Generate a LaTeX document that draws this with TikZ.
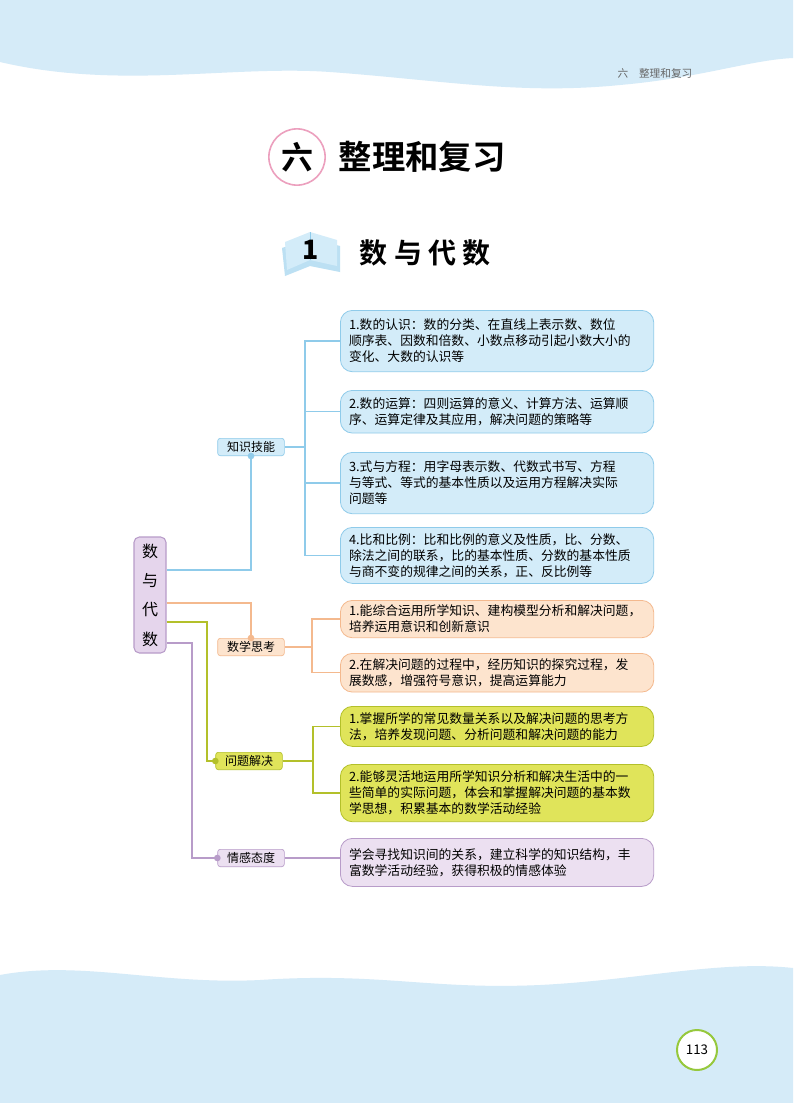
\documentclass[tikz,border=0pt]{standalone}
\usepackage{fontspec}
\setmainfont{Noto Sans CJK SC}
\newfontfamily\cjk{Noto Sans CJK SC}
\newfontfamily\cjkb{Noto Sans CJK SC Bold}
\usetikzlibrary{calc}
\definecolor{wave}{HTML}{D5EBF8}
\definecolor{bfill}{HTML}{D3ECF9}\definecolor{bline}{HTML}{8FCBEA}
\definecolor{ofill}{HTML}{FDE4CE}\definecolor{oline}{HTML}{F4B98E}
\definecolor{gfill}{HTML}{E0E45A}\definecolor{gline}{HTML}{B3C02A}
\definecolor{pfill}{HTML}{ECE0F1}\definecolor{pline}{HTML}{B89CC9}
\tikzset{
 box/.style={rounded corners=9pt,draw=#1line,fill=#1fill,line width=0.6pt,anchor=north west,minimum width=235pt,text width=222pt,align=left,font=\cjk\fontsize{9.6}{12}\selectfont,inner sep=0pt},
 cat/.style={rounded corners=2pt,draw=#1line,fill=#1fill,line width=0.5pt,minimum width=50pt,minimum height=13pt,inner sep=1pt,font=\cjk\fontsize{9}{10}\selectfont},
 con/.style={line width=0.9pt,draw=#1line},
 dot/.style={circle,fill=#1line,inner sep=0pt,minimum size=5pt}
}
\begin{document}
\begin{tikzpicture}[x=0.75pt,y=-0.75pt]
\useasboundingbox (0,0) rectangle (793,1103);
\fill[white] (0,0) rectangle (793,1103);
% waves
\fill[wave] (0,0) -- (0,62) .. controls (120,90) and (230,65) .. (330,72) .. controls (440,80) and (520,95) .. (620,85) .. controls (700,78) and (750,60) .. (793,58) -- (793,0) -- cycle;
\fill[wave] (0,1103) -- (0,975) .. controls (80,960) and (160,985) .. (260,980) .. controls (380,972) and (430,990) .. (540,985) .. controls (640,980) and (720,960) .. (793,968) -- (793,1103) -- cycle;
\node[font=\cjk\fontsize{8}{9}\selectfont,text=black!60] (hdr) at (655,73) {六\quad 整理和复习};
% page number
\node[circle,draw={rgb,255:red,150;green,200;blue,60},line width=1.5pt,fill=white,minimum size=30pt,font=\cjk\fontsize{10}{10}\selectfont] (pg) at (697,1050) {113};
% title
\node[circle,draw={rgb,255:red,236;green,160;blue,190},line width=1.2pt,minimum size=40pt,font=\cjkb\fontsize{24}{24}\selectfont] (six) at (297,157) {六};
\node[anchor=west,font=\cjkb\fontsize{25}{25}\selectfont] (title) at (334,157) {整理和复习};
% book icon
\fill[bline!60] (282,248) -- (310,238) -- (340,246) -- (340,272) -- (310,266) -- (285,276) -- cycle;
\fill[bfill] (285,242) -- (310,232) -- (337,240) -- (337,266) -- (310,260) -- (287,270) -- cycle;
\draw[bline,line width=0.6pt] (310,232) -- (310,260);
\node[font=\bfseries\itshape\fontsize{20}{20}\selectfont] (one) at (311,250) {1};
\node[anchor=west,font=\cjkb\fontsize{21}{21}\selectfont] (sub) at (355,253) {数\ 与\ 代\ 数};
% root
\node[rounded corners=4pt,draw=pline,fill={rgb,255:red,229;green,213;blue,236},line width=0.8pt,minimum width=24pt,minimum height=87pt,align=center,font=\cjk\fontsize{12}{22}\selectfont] (root) at (150,595) {数\\与\\代\\数};
% categories
\node[cat=b] (k) at (251,447) {知识技能};
\node[cat=o] (m) at (251,647) {数学思考};
\node[cat=g] (w) at (249,761) {问题解决};
\node[cat=p] (q) at (251,858) {情感态度};
% boxes
\node[box=b,minimum height=46pt] (b1) at (340,310) {1.数的认识：数的分类、在直线上表示数、数位\\顺序表、因数和倍数、小数点移动引起小数大小的\\变化、大数的认识等};
\node[box=b,minimum height=32pt] (b2) at (340,390) {2.数的运算：四则运算的意义、计算方法、运算顺\\序、运算定律及其应用，解决问题的策略等};
\node[box=b,minimum height=46pt] (b3) at (340,452) {3.式与方程：用字母表示数、代数式书写、方程\\与等式、等式的基本性质以及运用方程解决实际\\问题等};
\node[box=b,minimum height=42pt] (b4) at (340,527) {4.比和比例：比和比例的意义及性质，比、分数、\\除法之间的联系，比的基本性质、分数的基本性质\\与商不变的规律之间的关系，正、反比例等};
\node[box=o,minimum height=28pt] (o1) at (340,600) {1.能综合运用所学知识、建构模型分析和解决问题，\\培养运用意识和创新意识};
\node[box=o,minimum height=29pt] (o2) at (340,653) {2.在解决问题的过程中，经历知识的探究过程，发\\展数感，增强符号意识，提高运算能力};
\node[box=g,minimum height=30pt] (g1) at (340,706) {1.掌握所学的常见数量关系以及解决问题的思考方\\法，培养发现问题、分析问题和解决问题的能力};
\node[box=g,minimum height=43pt] (g2) at (340,764) {2.能够灵活地运用所学知识分析和解决生活中的一\\些简单的实际问题，体会和掌握解决问题的基本数\\学思想，积累基本的数学活动经验};
\node[box=p,minimum height=36pt] (p1) at (340,838) {学会寻找知识间的关系，建立科学的知识结构，丰\\富数学活动经验，获得积极的情感体验};
% root connectors
\draw[con=b] (root.east |- 0,570) -| (k.south);
\node[dot=b] (dk) at (k.south) {};
\draw[con=o] (root.east |- 0,603) -| (m.north);
\node[dot=o] (dm) at (m.north) {};
\draw[con=g] (root.east |- 0,622) -| (207,761) -- (w.west);
\node[dot=g] (dw) at (w.west) {};
\draw[con=p] (root.east |- 0,643) -| (192,858) -- (q.west);
\node[dot=p] (dq) at (q.west) {};
% branch connectors
\draw[con=b] (k.east) -- (305,447);
\foreach \b in {b1,b2,b3,b4} \draw[con=b] (305,447) |- (\b.west);
\draw[con=o] (m.east) -- (312,647);
\foreach \b in {o1,o2} \draw[con=o] (312,647) |- (\b.west);
\draw[con=g] (w.east) -- (313,761);
\foreach \b in {g1,g2} \draw[con=g] (313,761) |- (\b.west);
\draw[con=p] (q.east) -- (q.east -| p1.west);
\end{tikzpicture}
\end{document}
